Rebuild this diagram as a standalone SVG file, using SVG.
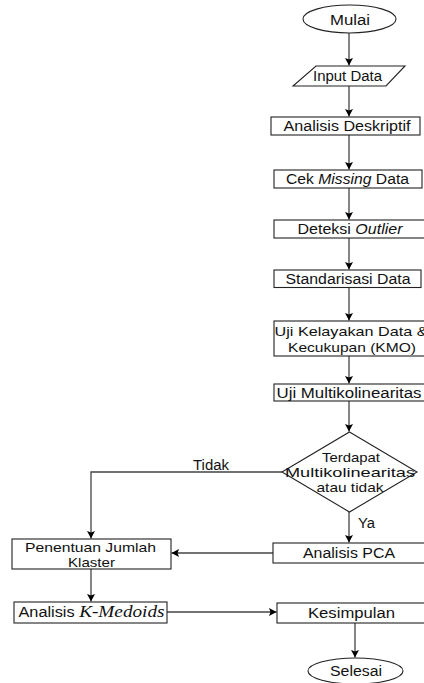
<svg xmlns="http://www.w3.org/2000/svg" width="424" height="683" viewBox="0 0 424 683">
<style>
.n{fill:#fff;stroke:#222;stroke-width:1.1}
.c{fill:none;stroke:#444;stroke-width:1.3}
text{font-family:"Liberation Sans",Arial,sans-serif;font-size:14px;fill:#111;text-anchor:middle}
.m{font-size:13px}
.i{font-style:italic}
.s{font-family:"Liberation Serif","Times New Roman",serif;font-size:16.5px;font-style:italic}
</style>
<defs>
<marker id="a" markerUnits="userSpaceOnUse" markerWidth="10" markerHeight="10" refX="7.5" refY="4" orient="auto">
<path d="M0,0 L7.5,4 L0,8 L1.5,4 Z" fill="#000"/>
</marker>
</defs>
<rect width="424" height="683" fill="#fff"/>
<g id="connectors">
<path class="c" d="M349,33 V65.5" marker-end="url(#a)"/>
<path class="c" d="M349,86 V116.5" marker-end="url(#a)"/>
<path class="c" d="M349,135 V169.5" marker-end="url(#a)"/>
<path class="c" d="M349,188 V219.5" marker-end="url(#a)"/>
<path class="c" d="M349,238 V269.5" marker-end="url(#a)"/>
<path class="c" d="M349,287.5 V320.5" marker-end="url(#a)"/>
<path class="c" d="M349,356 V383.5" marker-end="url(#a)"/>
<path class="c" d="M349,401 V431.5" marker-end="url(#a)"/>
<path class="c" d="M282,472 H91 V538.5" marker-end="url(#a)"/>
<text x="211" y="470" textLength="36" lengthAdjust="spacingAndGlyphs">Tidak</text>
<path class="c" d="M349,512 V542.5" marker-end="url(#a)"/>
<text x="366.5" y="528" textLength="17" lengthAdjust="spacingAndGlyphs">Ya</text>
<path class="c" d="M273,553 H171.5" marker-end="url(#a)"/>
<path class="c" d="M91,569 V601.5" marker-end="url(#a)"/>
<path class="c" d="M167,612 H276.5" marker-end="url(#a)"/>
<path class="c" d="M355,623 V657.5" marker-end="url(#a)"/>
</g>
<g id="mulai">
<ellipse class="n" cx="349.5" cy="19" rx="46.5" ry="14"/>
<text x="350" y="25" textLength="40" lengthAdjust="spacingAndGlyphs">Mulai</text>
</g>
<g id="input-data">
<polygon class="n" points="316,66 405,66 386,86 293,86"/>
<text x="347.5" y="81" textLength="69" lengthAdjust="spacingAndGlyphs">Input Data</text>
</g>
<g id="analisis-deskriptif">
<rect class="n" x="271" y="117" width="149" height="18"/>
<text x="347" y="131" textLength="127" lengthAdjust="spacingAndGlyphs">Analisis Deskriptif</text>
</g>
<g id="cek-missing">
<rect class="n" x="274" y="170" width="148" height="18"/>
<text x="347.5" y="184" textLength="123" lengthAdjust="spacingAndGlyphs">Cek <tspan class="i">Missing</tspan> Data</text>
</g>
<g id="deteksi-outlier">
<rect class="n" x="274" y="220" width="152" height="18"/>
<text x="350" y="234" textLength="105" lengthAdjust="spacingAndGlyphs">Deteksi <tspan class="i">Outlier</tspan></text>
</g>
<g id="standarisasi">
<rect class="n" x="274" y="270" width="147" height="17.5"/>
<text x="348" y="283.5" textLength="125" lengthAdjust="spacingAndGlyphs">Standarisasi Data</text>
</g>
<g id="uji-kelayakan">
<rect class="n" x="274" y="321" width="152" height="35"/>
<text class="m" x="351" y="336" textLength="153" lengthAdjust="spacingAndGlyphs">Uji Kelayakan Data &amp;</text>
<text class="m" x="352" y="351.5" textLength="128" lengthAdjust="spacingAndGlyphs">Kecukupan (KMO)</text>
</g>
<g id="uji-multi">
<rect class="n" x="274" y="384" width="152" height="17"/>
<text x="349" y="397.5" textLength="145" lengthAdjust="spacingAndGlyphs">Uji Multikolinearitas</text>
</g>
<g id="keputusan">
<polygon class="n" points="349.5,432 417,472 349.5,512 282,472"/>
<text class="m" x="351" y="461.5" textLength="58" lengthAdjust="spacingAndGlyphs">Terdapat</text>
<text class="m" x="350" y="476.5" textLength="130" lengthAdjust="spacingAndGlyphs">Multikolinearitas</text>
<text class="m" x="350" y="491.5" textLength="67" lengthAdjust="spacingAndGlyphs">atau tidak</text>
</g>
<g id="analisis-pca">
<rect class="n" x="273" y="543" width="153" height="20"/>
<text x="349" y="557.5" textLength="92" lengthAdjust="spacingAndGlyphs">Analisis PCA</text>
</g>
<g id="penentuan">
<rect class="n" x="12" y="539" width="159" height="30"/>
<text class="m" x="90.5" y="552" textLength="131" lengthAdjust="spacingAndGlyphs">Penentuan Jumlah</text>
<text class="m" x="91.5" y="567" textLength="47" lengthAdjust="spacingAndGlyphs">Klaster</text>
</g>
<g id="kmedoids">
<rect class="n" x="14" y="602" width="153" height="21"/>
<text x="91.5" y="617" textLength="146" lengthAdjust="spacingAndGlyphs">Analisis <tspan class="s">K-Medoids</tspan></text>
</g>
<g id="kesimpulan">
<rect class="n" x="277" y="603" width="149" height="20"/>
<text x="351.5" y="617.5" textLength="87" lengthAdjust="spacingAndGlyphs">Kesimpulan</text>
</g>
<g id="selesai">
<ellipse class="n" cx="355.5" cy="671" rx="47.5" ry="13"/>
<text x="356" y="676" textLength="52" lengthAdjust="spacingAndGlyphs">Selesai</text>
</g>
</svg>
